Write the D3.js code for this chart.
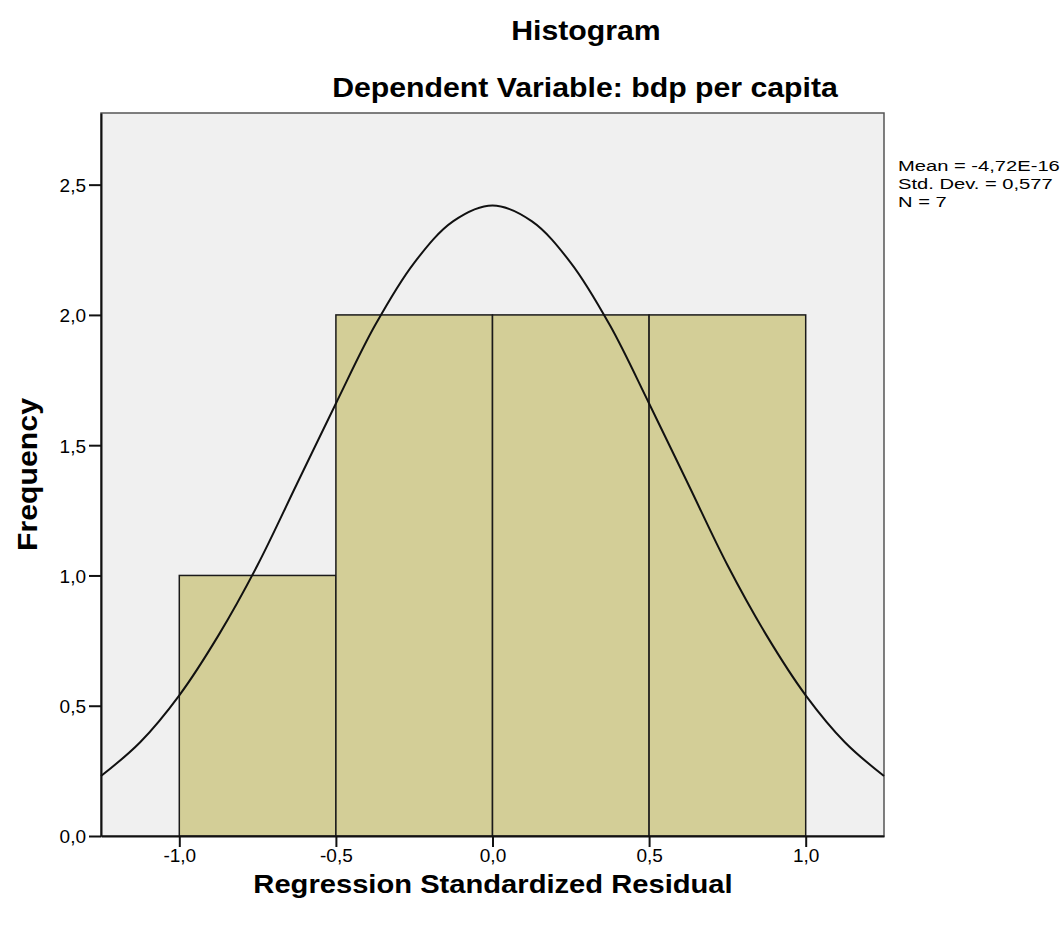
<!DOCTYPE html>
<html>
<head>
<meta charset="utf-8">
<script src="https://cdn.jsdelivr.net/npm/d3@7"></script>
<style>
  body { margin: 0; background: #fff; }
  svg text { font-family: "Liberation Sans", Arial, sans-serif; fill: #000; }
</style>
</head>
<body>
<div id="chart"></div>
<script>
// bins of regression standardized residual and their counts
const binStarts = [-1.0, -0.5, 0.0, 0.5];
const binEnds = [-0.5, 0.0, 0.5, 1.0];
const counts = [1, 2, 2, 2];

// normal curve points
const curveX = [-1.25, -1.125, -1.0, -0.875, -0.75, -0.625, -0.5, -0.375, -0.25, -0.125, 0, 0.125, 0.25, 0.375, 0.5, 0.625, 0.75, 0.875, 1.0, 1.125, 1.25];
const curveY = [0.23, 0.36, 0.54, 0.77, 1.04, 1.35, 1.66, 1.96, 2.20, 2.36, 2.42, 2.36, 2.20, 1.96, 1.66, 1.35, 1.04, 0.77, 0.54, 0.36, 0.23];

const xTicks = [-1.0, -0.5, 0.0, 0.5, 1.0];
const yTicks = [0.0, 0.5, 1.0, 1.5, 2.0, 2.5];
const statLines = ["Mean = -4,72E-16", "Std. Dev. = 0,577", "N = 7"];

const W = 1064, H = 925;
const plot = { left: 101, right: 884, top: 113, bottom: 836 };

const svg = d3.select("#chart").append("svg")
    .attr("width", W)
    .attr("height", H);

const x = d3.scaleLinear().domain([-1.25, 1.25]).range([plot.left, plot.right]);
const y = d3.scaleLinear().domain([0, 2.775]).range([plot.bottom, plot.top]);
const fmt = d => d.toFixed(1).replace(".", ",");

// plot background
svg.append("rect")
    .attr("x", plot.left)
    .attr("y", plot.top)
    .attr("width", plot.right - plot.left)
    .attr("height", plot.bottom - plot.top)
    .attr("fill", "#f0f0f0")
    .attr("stroke", "#555")
    .attr("stroke-width", 1.5);

// bars
const bins = binStarts.map((s, i) => ({ x0: s, x1: binEnds[i], n: counts[i] }));
svg.append("g").selectAll("rect")
    .data(bins)
    .join("rect")
    .attr("x", d => x(d.x0))
    .attr("y", d => y(d.n))
    .attr("width", d => x(d.x1) - x(d.x0))
    .attr("height", d => y(0) - y(d.n))
    .attr("fill", "#d3ce97")
    .attr("stroke", "#1a1a1a")
    .attr("stroke-width", 1.5);

// normal curve
const line = d3.line()
    .x(d => x(d[0]))
    .y(d => y(d[1]))
    .curve(d3.curveCatmullRom);
svg.append("path")
    .datum(curveX.map((v, i) => [v, curveY[i]]))
    .attr("d", line)
    .attr("fill", "none")
    .attr("stroke", "#111")
    .attr("stroke-width", 2);

// axes
const xAxis = svg.append("g")
    .attr("transform", `translate(0,${plot.bottom})`)
    .call(d3.axisBottom(x).tickValues(xTicks).tickFormat(fmt).tickSize(11).tickSizeOuter(0));
const yAxis = svg.append("g")
    .attr("transform", `translate(${plot.left},0)`)
    .call(d3.axisLeft(y).tickValues(yTicks).tickFormat(fmt).tickSize(12).tickSizeOuter(0));

[xAxis, yAxis].forEach(a => {
    a.select(".domain").attr("stroke", "#111").attr("stroke-width", 2);
    a.selectAll(".tick line").attr("stroke", "#111").attr("stroke-width", 2);
    a.selectAll(".tick text")
        .attr("font-family", "Liberation Sans, Arial, sans-serif")
        .attr("font-size", 19)
        .attr("fill", "#222");
});
xAxis.selectAll(".tick text").attr("y", 26).attr("dy", 0);
yAxis.selectAll(".tick text").attr("x", -15).attr("dy", "0.36em");

// titles (slightly widened glyphs, like the original)
function title(tf, txt, size) {
    svg.append("text")
        .attr("transform", tf)
        .attr("text-anchor", "middle")
        .attr("font-size", size).attr("font-weight", "bold")
        .text(txt);
}
title("translate(586,40) scale(1.1,1)", "Histogram", 27.5);
title("translate(585,97) scale(1.1,1)", "Dependent Variable: bdp per capita", 27.5);
title("translate(493,893) scale(1.1,1)", "Regression Standardized Residual", 26.5);
title(`translate(37,${(plot.top + plot.bottom) / 2}) rotate(-90) scale(1.1,1)`, "Frequency", 27.5);

// stats box
svg.append("g")
    .attr("transform", "translate(898,0) scale(1.3,1)")
    .selectAll("text")
    .data(statLines)
    .join("text")
    .attr("x", 0)
    .attr("y", (d, i) => 171 + i * 18)
    .attr("font-size", 15.5)
    .attr("fill", "#222")
    .text(d => d);
</script>
</body>
</html>
